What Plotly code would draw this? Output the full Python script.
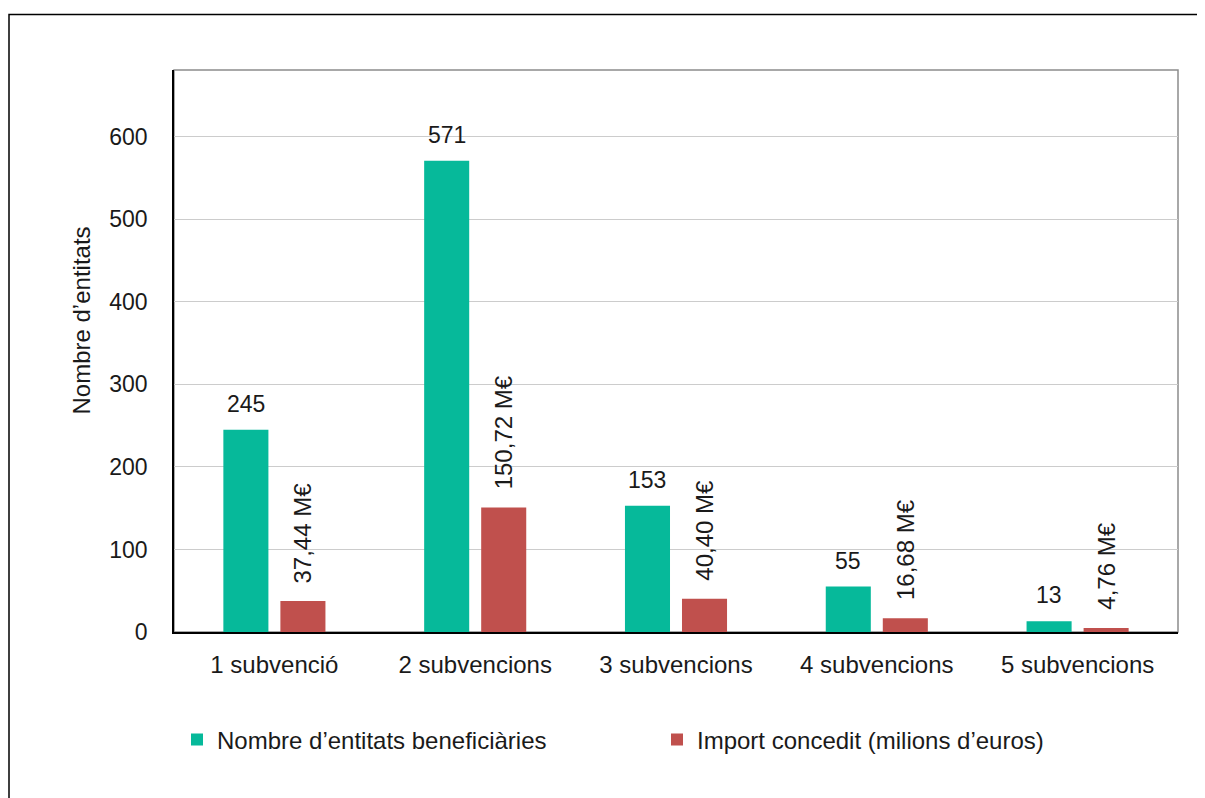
import plotly.graph_objects as go

categories = ["1 subvenció", "2 subvencions", "3 subvencions", "4 subvencions", "5 subvencions"]
entitats = [245, 571, 153, 55, 13]
imports = [37.44, 150.72, 40.40, 16.68, 4.76]
import_labels = ["37,44 M€", "150,72 M€", "40,40 M€", "16,68 M€", "4,76 M€"]
y_ticks = [0, 100, 200, 300, 400, 500, 600]
series_names = ["Nombre d’entitats beneficiàries", "Import concedit (milions d’euros)"]

TEAL = "#06B99A"
RED = "#C0504D"
FONT = "Liberation Sans"
TXT = "#1a1a1a"
FS = 24

W, H = 1197, 790
ML, MR, MT, MB = 166, 27, 62, 166
pw = W - ML - MR
ph = H - MT - MB

fig = go.Figure()
fig.add_trace(go.Bar(x=categories, y=entitats, name=series_names[0], marker_color=TEAL,
                     marker_line_width=0))
fig.add_trace(go.Bar(x=categories, y=imports, name=series_names[1], marker_color=RED,
                     marker_line_width=0))

bargap = 0.432
bgg = 0.21
slot = pw / len(categories) * (1 - bargap) / 2
off = slot / 2

for c, v in zip(categories, entitats):
    fig.add_annotation(x=c, y=v, text=str(v), showarrow=False, xshift=-off, yshift=11,
                       yanchor="bottom", font=dict(family=FONT, size=FS - 1, color=TXT))
for c, v, t in zip(categories, imports, import_labels):
    fig.add_annotation(x=c, y=v, text=t, showarrow=False, xshift=off, yshift=16,
                       yanchor="bottom", textangle=-90, font=dict(family=FONT, size=FS, color=TXT))

# y-axis title
fig.add_annotation(xref="paper", yref="paper", x=(57 - ML) / pw, y=(H - MB - 313) / ph,
                   text="Nombre d’entitats", textangle=-90, showarrow=False,
                   font=dict(family=FONT, size=FS, color=TXT))

# plot-area frame (top/right gray)
fig.add_shape(type="rect", xref="paper", yref="paper", x0=0, x1=1, y0=0, y1=1,
              line=dict(color="#8c8c8c", width=1.5), layer="below")
# outer frame
fig.add_shape(type="rect", xref="paper", yref="paper",
              x0=(1 - ML) / pw, x1=(W + 10 - ML) / pw,
              y0=(H - MB - (H + 10)) / ph, y1=(H - MB - 6.5) / ph,
              line=dict(color="black", width=1.5), layer="below")

fig.update_layout(
    width=W, height=H,
    margin=dict(l=ML, r=MR, t=MT, b=MB, pad=0),
    paper_bgcolor="white", plot_bgcolor="white",
    barmode="group", bargap=bargap, bargroupgap=bgg,
    font=dict(family=FONT, size=FS, color=TXT),
    showlegend=True,
    legend=dict(orientation="h", x=(169 - ML) / pw, xanchor="left",
                y=(H - MB - 732) / ph, yanchor="middle",
                entrywidth=435, font=dict(family=FONT, size=FS, color=TXT),
                bgcolor="rgba(0,0,0,0)", itemsizing="constant"),
)
fig.update_xaxes(showline=True, linecolor="black", linewidth=1.5, ticks="",
                 tickfont=dict(family=FONT, size=FS, color=TXT), ticklabelstandoff=10,
                 showgrid=False)
fig.update_yaxes(range=[0, 681], tickvals=y_ticks, showline=True, linecolor="black", linewidth=1.5,
                 ticks="", showgrid=True, gridcolor="#cccccc", gridwidth=1.2,
                 tickfont=dict(family=FONT, size=FS - 1, color=TXT), ticklabelstandoff=20,
                 zeroline=False)

fig.write_html("out.html")
